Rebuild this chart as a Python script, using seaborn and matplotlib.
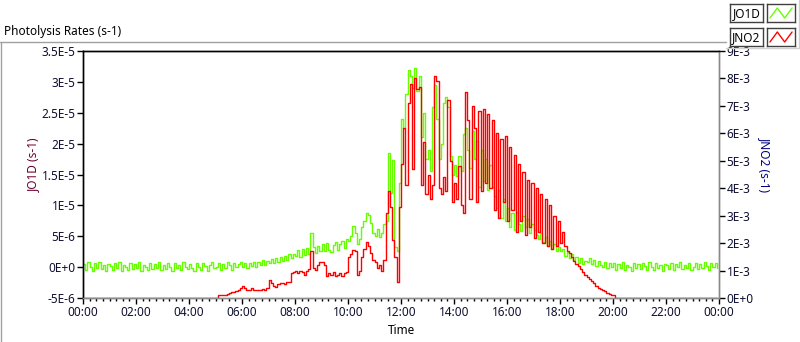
import numpy as np
import pandas as pd
import matplotlib
matplotlib.use("Agg")
import matplotlib.pyplot as plt
import matplotlib.ticker as mticker
from matplotlib.lines import Line2D
import seaborn as sns

# 5-minute samples over one day
minutes = np.arange(0, 24 * 60, 5)

# JO1D in units of 1E-6 s-1, one row per hour
jo1d_e6 = [
    0.5, -0.4, 0.8, 0.1, -0.6, 0.6, -0.2, 0.9, -0.3, 0.4, -0.7, 0.5,
    0.2, -0.5, 0.7, -0.1, 0.8, -0.6, 0.3, 0.1, -0.4, 0.7, -0.3, 0.5,
    -0.1, 0.8, -0.6, 0.4, 0.1, -0.5, 0.7, -0.3, 0.5, -0.1, 0.9, -0.4,
    0.3, -0.3, 0.6, 0.0, -0.7, 0.7, -0.1, 0.4, -0.5, 0.8, 0.1, -0.3,
    0.5, -0.2, -0.6, 0.7, 0.1, -0.4, 0.6, 0.2, -0.7, 0.4, 0.8, -0.2,
    0.1, 0.7, -0.4, 0.5, -0.2, 0.8, 0.3, -0.5, 0.6, 0.0, 0.5, 0.9,
    0.1, 0.6, -0.2, 0.7, 0.2, 0.8, 0.1, 0.9, 0.4, 1.1, 0.3, 1.0,
    0.6, 1.3, 0.7, 1.4, 0.9, 1.7, 1.0, 1.8, 1.2, 2.1, 1.4, 2.2,
    1.8, 2.7, 1.6, 2.9, 2.0, 3.1, 2.2, 5.5, 3.3, 2.3, 3.5, 2.6,
    3.7, 2.6, 3.9, 2.8, 2.4, 3.6, 4.1, 2.8, 3.8, 4.3, 3.1, 4.5,
    4.2, 5.0, 6.6, 5.5, 3.7, 4.5, 6.5, 7.5, 8.7, 8.5, 7.2, 5.6,
    5.0, 6.2, 4.8, 5.5, 7.0, 7.5, 18.5, 12.0, 17.4, 3.2, 2.6, 13.7,
    24.0, 22.5, 28.0, 32.0, 31.0, 29.0, 32.2, 28.5, 31.0, 21.0, 25.0, 17.5,
    19.0, 15.5, 26.0, 29.5, 24.0, 17.5, 20.0, 26.5, 27.5, 26.0, 18.0, 15.0,
    16.5, 14.8, 18.0, 15.5, 21.5, 22.5, 19.0, 16.0, 22.0, 17.5, 20.5, 13.0,
    19.0, 14.0, 17.5, 12.5, 16.5, 13.0, 11.5, 9.5, 12.5, 8.0, 11.0, 7.5,
    9.5, 6.5, 8.8, 6.0, 9.0, 7.0, 5.8, 8.2, 6.5, 7.8, 5.6, 7.0,
    6.0, 5.2, 4.5, 5.6, 4.0, 4.8, 3.5, 4.2, 3.0, 3.8, 2.6, 3.2,
    2.6, 3.0, 1.8, 2.4, 1.4, 2.1, 1.1, 1.7, 0.7, 1.4, 0.5, 1.0,
    0.9, 1.4, 0.5, 1.1, 0.2, 1.0, 0.4, 0.0, 0.8, -0.2, 0.6, 0.1,
    0.6, -0.4, 0.5, -0.1, 0.8, -0.5, 0.3, 0.0, -0.6, 0.7, -0.2, 0.5,
    -0.3, 0.6, 0.2, -0.5, 0.8, 0.0, -0.4, 0.7, -0.1, 0.4, -0.6, 0.5,
    0.3, -0.3, 0.7, -0.5, 0.5, 0.0, 0.8, -0.3, 0.4, -0.2, 0.6, -0.5,
    0.1, 0.7, -0.3, 0.5, -0.2, 0.8, 0.2, -0.5, 0.6, 0.0, 0.7, -0.1,
]

# JNO2 in units of 1E-3 s-1, one row per hour
jno2_e3 = [
    0, 0, 0, 0, 0, 0, 0, 0, 0, 0, 0, 0,
    0, 0, 0, 0, 0, 0, 0, 0, 0, 0, 0, 0,
    0, 0, 0, 0, 0, 0, 0, 0, 0, 0, 0, 0,
    0, 0, 0, 0, 0, 0, 0, 0, 0, 0, 0, 0,
    0, 0, 0, 0, 0, 0, 0, 0, 0, 0, 0, 0,
    0, 0.12, 0.12, 0.12, 0.12, 0.15, 0.2, 0.23, 0.23, 0.25, 0.3, 0.35,
    0.45, 0.35, 0.28, 0.3, 0.37, 0.3, 0.28, 0.3, 0.3, 0.32, 0.3, 0.35,
    0.65, 0.55, 0.45, 0.4, 0.5, 0.55, 0.56, 0.52, 0.6, 0.58, 0.9, 0.95,
    1.0, 0.92, 0.98, 0.95, 0.85, 1.0, 1.05, 1.7, 1.1, 1.02, 1.2, 1.3,
    1.3, 1.2, 0.8, 0.9, 0.85, 0.95, 0.8, 0.85, 0.9, 0.8, 0.9, 0.95,
    1.5, 1.6, 1.75, 1.7, 0.85, 1.0, 1.5, 1.8, 2.05, 1.9, 1.65, 1.4,
    1.3, 1.1, 1.2, 1.0, 1.4, 3.1, 3.9, 3.3, 2.1, 1.5, 0.6, 3.3,
    4.9, 6.2, 4.1, 7.1, 7.8, 4.7, 8.0, 7.6, 7.7, 4.1, 5.7, 3.8,
    4.5, 3.6, 4.1, 8.1, 7.9, 4.0, 3.8, 4.4, 3.9, 7.2, 5.0, 3.5,
    4.2, 3.6, 4.8, 3.4, 3.1, 7.5, 6.5, 3.6, 7.0, 6.2, 3.5, 6.8,
    3.9, 6.9, 4.2, 6.7, 4.0, 6.5, 3.2, 6.0, 2.9, 5.8, 3.5, 5.9,
    2.8, 5.5, 3.2, 5.2, 2.4, 4.9, 2.8, 4.6, 2.3, 4.3, 2.6, 4.2,
    2.2, 4.0, 2.4, 3.8, 2.0, 3.6, 1.9, 3.4, 1.8, 3.0, 1.9, 2.8,
    2.0, 2.4, 1.9, 1.7, 1.65, 1.5, 1.35, 1.25, 1.15, 1.05, 0.95, 0.85,
    0.78, 0.7, 0.63, 0.55, 0.45, 0.38, 0.33, 0.3, 0.25, 0.2, 0.15, 0.12,
    0.1, 0, 0, 0, 0, 0, 0, 0, 0, 0, 0, 0,
    0, 0, 0, 0, 0, 0, 0, 0, 0, 0, 0, 0,
    0, 0, 0, 0, 0, 0, 0, 0, 0, 0, 0, 0,
    0, 0, 0, 0, 0, 0, 0, 0, 0, 0, 0, 0,
]

x_ticks = list(range(0, 25, 2))
x_tick_labels = ["%02d:00" % (h % 24) for h in x_ticks]
left_ticks = [-5e-6, 0, 5e-6, 1e-5, 1.5e-5, 2e-5, 2.5e-5, 3e-5, 3.5e-5]
left_tick_labels = ["-5E-6", "0E+0", "5E-6", "1E-5", "1.5E-5", "2E-5", "2.5E-5", "3E-5", "3.5E-5"]
right_ticks = [i * 1e-3 for i in range(10)]
right_tick_labels = ["0E+0"] + ["%dE-3" % i for i in range(1, 10)]

df = pd.DataFrame({
    "hour": minutes / 60.0,
    "JO1D": np.array(jo1d_e6) * 1e-6,
    "JNO2": np.array(jno2_e3) * 1e-3,
})

sns.set_style("white")
plt.rcParams["font.family"] = ["Noto Sans", "DejaVu Sans"]

W, H = 800, 342
fig = plt.figure(figsize=(8, 3.42), dpi=100)
ax = fig.add_axes([83 / W, 44 / H, 636 / W, 247 / H])
ax2 = ax.twinx()

green = "#66ff00"
red = "#ff0000"
sns.lineplot(data=df, x="hour", y="JO1D", ax=ax, color=green, lw=1,
             drawstyle="steps-post", estimator=None)
sns.lineplot(data=df, x="hour", y="JNO2", ax=ax2, color=red, lw=1,
             drawstyle="steps-post", estimator=None)

ax.set_xlim(0, 24)
ax.set_ylim(-5e-6, 3.5e-5)
ax2.set_ylim(0, 9e-3)

tick_col = "#101030"
ax.set_xticks(x_ticks, x_tick_labels)
ax.xaxis.set_minor_locator(mticker.MultipleLocator(0.25))
ax.set_yticks(left_ticks, left_tick_labels)
ax2.set_yticks(right_ticks, right_tick_labels)
ax.tick_params(axis="x", which="major", bottom=True, direction="out", length=4,
               width=1, color="black", labelsize=8.5, labelcolor=tick_col, pad=2)
ax.tick_params(axis="x", which="minor", bottom=True, direction="out", length=2.5,
               width=1, color="black")
ax.tick_params(axis="y", left=True, direction="out", length=4, width=1,
               color="black", labelsize=8.5, labelcolor=tick_col, pad=1.5)
ax2.tick_params(axis="y", right=True, direction="out", length=4, width=1,
                color="black", labelsize=8.5, labelcolor=tick_col, pad=1.5)

for a in (ax, ax2):
    a.spines["top"].set_color("black")
    a.spines["left"].set_color("black")
    a.spines["bottom"].set_color("#8a8a8a")
    a.spines["right"].set_color("#8a8a8a")
    for s in a.spines.values():
        s.set_linewidth(1)
        s.set_visible(True)

ax.set_xlabel("Time", fontsize=8.5, color="black", va="center")
ax.xaxis.set_label_coords(0.5, -(330 - 298) / 247)
ax.set_ylabel("JO1D (s-1)", fontsize=8.5, color="#6b0030", va="center")
ax.yaxis.set_label_coords((33 - 83) / 636, 0.54)
ax2.set_ylabel("JNO2 (s-1)", fontsize=8.5, color="#000080", rotation=270, va="center")
ax2.yaxis.set_label_coords((765 - 83) / 636, 0.54)

fig.text(4 / W, 1 - 31 / H, "Photolysis Rates (s-1)", ha="left", va="center",
         fontsize=8.5, color="black")

# outer panel frame
frame = "#a0a0a0"
fig.add_artist(Line2D([0, 726 / W], [1 - 42 / H] * 2, color=frame, lw=1))
fig.add_artist(Line2D([0.6 / W] * 2, [0, 1 - 42 / H], color=frame, lw=1))
fig.add_artist(Line2D([726 / W, 799 / W], [1 - 48 / H] * 2, color="#d0d0d0", lw=1))
fig.add_artist(Line2D([799 / W] * 2, [1 - 48 / H, 1], color="#d0d0d0", lw=1))

# legend: name box + line sample box per series
for i, (name, col) in enumerate([("JO1D", green), ("JNO2", red)]):
    top = 4 + i * 24
    lab = fig.add_axes([730 / W, 1 - (top + 18) / H, 33 / W, 18 / H])
    lab.set_xticks([])
    lab.set_yticks([])
    lab.text(0.5, 0.45, name, ha="center", va="center", fontsize=8.5, color="black",
             transform=lab.transAxes)
    smp = fig.add_axes([767 / W, 1 - (top + 18) / H, 28 / W, 18 / H])
    smp.set_xticks([])
    smp.set_yticks([])
    sns.lineplot(x=[0, 1, 2, 3], y=[0, 1, 0, 1], ax=smp, color=col, lw=1)
    smp.set_xlim(-0.4, 3.4)
    smp.set_ylim(-0.4, 1.4)
    smp.set_xlabel("")
    smp.set_ylabel("")
    for a in (lab, smp):
        for s in a.spines.values():
            s.set_color("#404040")
            s.set_linewidth(1)
            s.set_visible(True)

fig.savefig("out.png", dpi=100)
